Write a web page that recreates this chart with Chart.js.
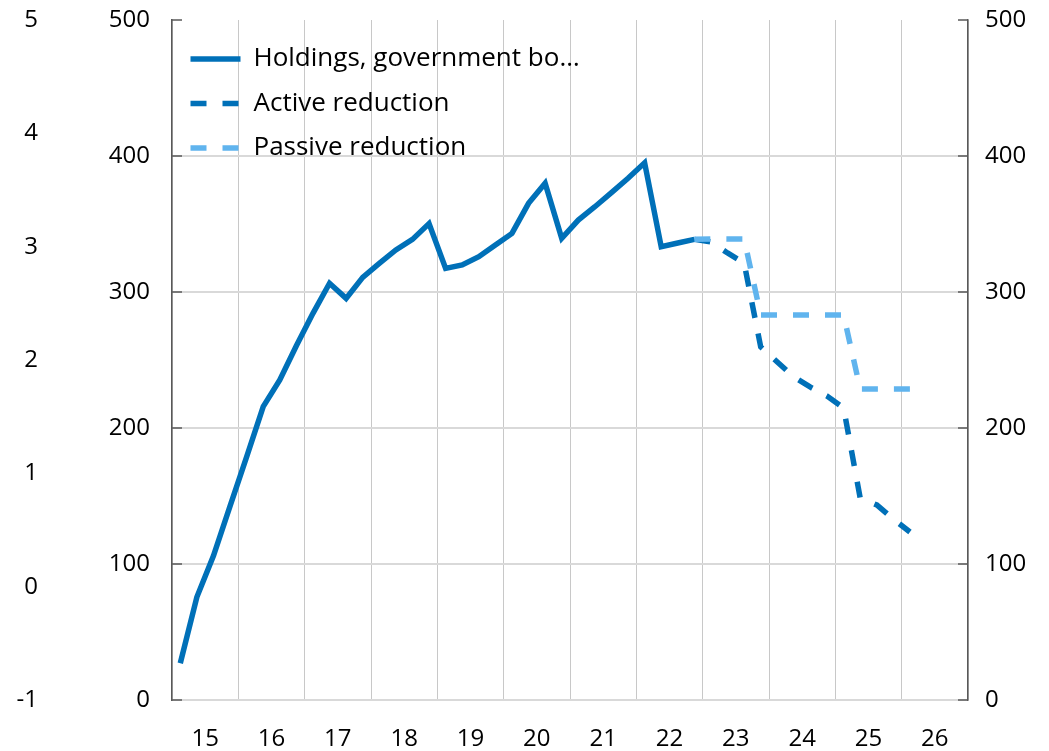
<!DOCTYPE html>
<html>
<head>
<meta charset="utf-8">
<script src="https://cdn.jsdelivr.net/npm/chart.js@4/dist/chart.umd.min.js"></script>
<style>
html,body{margin:0;padding:0;background:#fff;}
#wrap{width:1049px;height:751px;position:relative;}
</style>
</head>
<body>
<div id="wrap"><canvas id="c"></canvas></div>
<script>
// Year tick labels (x axis)
const yearLabels = ['15','16','17','18','19','20','21','22','23','24','25','26'];
const quarterNames = ['Q1','Q2','Q3','Q4'];
// Quarterly categories 2015Q1 .. 2026Q4
const quarterLabels = [];
yearLabels.forEach(y => quarterNames.forEach(q => quarterLabels.push('20' + y + q)));

// Series (NOK bn)
const holdings = [
  27, 75.7, 106, 142.6, 178.7, 215.7, 235.3, 260.5,
  284.3, 306.4, 295.3, 310.8, 321, 330.9, 338.7, 350.3,
  317.4, 319.9, 326, 334.6, 343.1, 365.2, 380, 339.5,
  352.9, 362.7, 373, 383.6, 395, 333.3, 336, 338.7,
  null, null, null, null, null, null, null, null,
  null, null, null, null, null, null, null, null
];
const activeReduction = [
  null, null, null, null, null, null, null, null,
  null, null, null, null, null, null, null, null,
  null, null, null, null, null, null, null, null,
  null, null, null, null, null, null, null, 338.7,
  336.8, 328.7, 321.3, 259.6, 248.5, 237.5, 230, 223.5,
  214.7, 148.5, 143.4, 133, 123.5, null, null, null
];
const passiveReduction = [
  null, null, null, null, null, null, null, null,
  null, null, null, null, null, null, null, null,
  null, null, null, null, null, null, null, null,
  null, null, null, null, null, null, null, 338.7,
  339, 339, 339, 283, 283, 283, 283, 283,
  283, 228.7, 228.7, 228.7, 228.7, null, null, null
];
const seriesNames = ['Holdings, government bo\u2026', 'Active reduction', 'Passive reduction'];

const FONT = "'Open Sans', 'Liberation Sans', sans-serif";
Chart.defaults.font.family = FONT;
Chart.defaults.color = '#000';

const DARK = '#0070b8';
const LIGHT = '#60b4ee';
const AXIS = '#595959';
const NONE = 'rgba(0,0,0,0)';

const tickMarks = {
  id: 'tickMarks',
  beforeDatasetsDraw(chart) {
    const {ctx, chartArea: a, scales} = chart;
    const y = scales.y;
    ctx.save();
    ctx.strokeStyle = AXIS;
    ctx.lineWidth = 1.5;
    y.ticks.forEach(t => {
      const py = y.getPixelForValue(t.value);
      ctx.beginPath();
      ctx.moveTo(a.left, py); ctx.lineTo(a.left + 10, py);
      ctx.moveTo(a.right - 10, py); ctx.lineTo(a.right, py);
      ctx.stroke();
    });
    ctx.restore();
  }
};

new Chart(document.getElementById('c'), {
  type: 'line',
  data: {
    labels: quarterLabels,
    datasets: [
      { label: seriesNames[0], data: holdings, xAxisID: 'x', yAxisID: 'y',
        borderColor: DARK, backgroundColor: DARK,
        borderWidth: 5.5, pointRadius: 0, tension: 0, order: 2 },
      { label: seriesNames[1], data: activeReduction, xAxisID: 'x', yAxisID: 'y',
        borderColor: DARK, backgroundColor: DARK,
        borderWidth: 5.5, borderDash: [16, 16], pointRadius: 0, tension: 0, order: 1 },
      { label: seriesNames[2], data: passiveReduction, xAxisID: 'x', yAxisID: 'y',
        borderColor: LIGHT, backgroundColor: LIGHT,
        borderWidth: 5.5, borderDash: [16, 16], pointRadius: 0, tension: 0, order: 0 }
    ]
  },
  options: {
    responsive: true,
    maintainAspectRatio: false,
    animation: false,
    layout: { padding: { top: 20, left: 0, right: 0, bottom: 0 } },
    plugins: {
      tooltip: { enabled: false },
      legend: {
        position: 'chartArea',
        align: 'start',
        title: { display: true, text: ' ', font: { size: 1 }, padding: { top: 0, bottom: 26.3 } },
        labels: {
          usePointStyle: true,
          pointStyle: 'line',
          pointStyleWidth: 50,
          font: { family: FONT, size: 26 },
          color: '#000',
          padding: 18.5,
          sort: (a, b) => a.datasetIndex - b.datasetIndex,
          generateLabels: chart => {
            const items = Chart.defaults.plugins.legend.labels.generateLabels(chart);
            items.forEach(it => {
              const ds = chart.data.datasets[it.datasetIndex];
              it.lineDash = ds.borderDash || [];
              it.lineWidth = ds.borderWidth;
              it.strokeStyle = ds.borderColor;
              it.fillStyle = ds.borderColor;
              it.lineCap = 'butt';
            });
            return items;
          }
        }
      }
    },
    scales: {
      x: { type: 'category', labels: quarterLabels, offset: true, display: false },
      xYears: {
        type: 'category', labels: yearLabels, position: 'bottom', offset: true,
        grid: { offset: true, color: '#c8c8c8', lineWidth: 1, drawTicks: false },
        border: { display: false },
        ticks: { color: '#000', font: { size: 24 }, padding: 25, maxRotation: 0, autoSkip: false },
        afterFit: s => { s.height = 51; }
      },
      yOuter: {
        position: 'left', weight: 1, min: -1, max: 5,
        ticks: { stepSize: 1, padding: 0, color: '#000', font: { size: 24 } },
        grid: { display: true, drawOnChartArea: false, drawTicks: true, tickLength: 22, tickColor: NONE, color: NONE },
        border: { display: false },
        afterFit: s => { s.width = 60; }
      },
      y: {
        position: 'left', weight: 0, min: 0, max: 500,
        ticks: { stepSize: 100, padding: 0, color: '#000', font: { size: 24 } },
        grid: {
          color: c => (c.tick && c.tick.value === 500) ? NONE : '#d9d9d9',
          lineWidth: 2, drawTicks: true, tickLength: 22, tickColor: NONE
        },
        border: { color: AXIS, width: 1.5 },
        afterFit: s => { s.width = 112; }
      },
      y2: {
        position: 'right', min: 0, max: 500,
        ticks: { stepSize: 100, padding: 0, color: '#000', font: { size: 24 } },
        grid: { display: true, drawOnChartArea: false, drawTicks: true, tickLength: 17, tickColor: NONE, color: NONE },
        border: { color: AXIS, width: 1.5 },
        afterFit: s => { s.width = 81; }
      }
    }
  },
  plugins: [tickMarks]
});
</script>
</body>
</html>
